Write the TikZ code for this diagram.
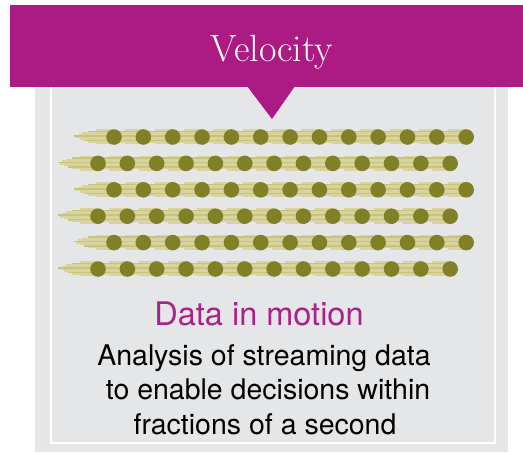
\documentclass[tikz,border=0pt]{standalone}
\usepackage{fontspec}
\newfontfamily\helv{TeX Gyre Heros}
\definecolor{vmag}{HTML}{AC1A84}
\definecolor{vmagtext}{HTML}{A8228A}
\definecolor{panelgrey}{HTML}{E5E6E8}
\definecolor{dotc}{HTML}{808027}
\definecolor{tailL}{HTML}{D8D4A0}
\definecolor{tailM}{HTML}{C9C47C}
\tikzset{
  streakL/.style={draw=tailL, line width=1.6pt},
  streakM/.style={draw=tailM, line width=1.6pt},
  ball/.style={fill=dotc},
}
\newcommand\tailat[2]{%
  \draw[streakL] (#1-18,#2-7) -- (#1,#2-7);
  \draw[streakM] (#1-26,#2-5.5) -- (#1-4,#2-5.5);
  \draw[streakL] (#1-32,#2-4) -- (#1,#2-4);
  \draw[streakL] (#1-36,#2-2.5) -- (#1-2,#2-2.5);
  \draw[streakM] (#1-40,#2-1) -- (#1-6,#2-1);
  \draw[streakL] (#1-38,#2+0.5) -- (#1,#2+0.5);
  \draw[streakL] (#1-34,#2+2) -- (#1,#2+2);
  \draw[streakM] (#1-30,#2+3.5) -- (#1-3,#2+3.5);
  \draw[streakL] (#1-26,#2+5) -- (#1,#2+5);
  \draw[streakL] (#1-18,#2+6.5) -- (#1,#2+6.5);
}
\begin{document}
\begin{tikzpicture}[x=1pt,y=-1pt]
\useasboundingbox (0,0) rectangle (523,453);
% panel
\fill[panelgrey] (35,87) rectangle (508,452);
\draw[white, line width=1.5pt] (51,87) -- (51,443) -- (495,443) -- (495,87);
% banner
\fill[vmag] (10,5) rectangle (523,87);
\fill[vmag] (247,86) -- (295,86) -- (272,119) -- cycle;
\node[text=white, font=\fontsize{38}{40}\selectfont, anchor=base, inner sep=0pt] (title) at (272,61) {Velocity};
% tails
\foreach \r in {0,...,5} {
  \pgfmathsetmacro\yy{137+26.4*\r}
  \pgfmathsetmacro\xs{ifthenelse(mod(\r,2)==0,114,98)}
  \foreach \i in {0,...,12} {
    \pgfmathsetmacro\xx{\xs+29.35*\i}
    \tailat{\xx}{\yy}
  }
}
% dots
\foreach \r in {0,...,5} {
  \pgfmathsetmacro\yy{137+26.4*\r}
  \pgfmathsetmacro\xs{ifthenelse(mod(\r,2)==0,114,98)}
  \foreach \i in {0,...,12} {
    \pgfmathsetmacro\xx{\xs+29.35*\i}
    \fill[ball] (\xx,\yy) circle[radius=7.8];
  }
}
% texts
\node[text=vmagtext, font=\helv\fontsize{32.5}{34}\selectfont, anchor=base, inner sep=0pt] (motion) at (259,325) {Data in motion};
\node[text=black, font=\helv\fontsize{28.5}{30}\selectfont, anchor=base, inner sep=0pt] (l1) at (264,365) {Analysis of streaming data};
\node[text=black, font=\helv\fontsize{28.5}{30}\selectfont, anchor=base, inner sep=0pt] (l2) at (268,399) {to enable decisions within};
\node[text=black, font=\helv\fontsize{28.5}{30}\selectfont, anchor=base, inner sep=0pt] (l3) at (265,434) {fractions of a second};
\end{tikzpicture}
\end{document}
